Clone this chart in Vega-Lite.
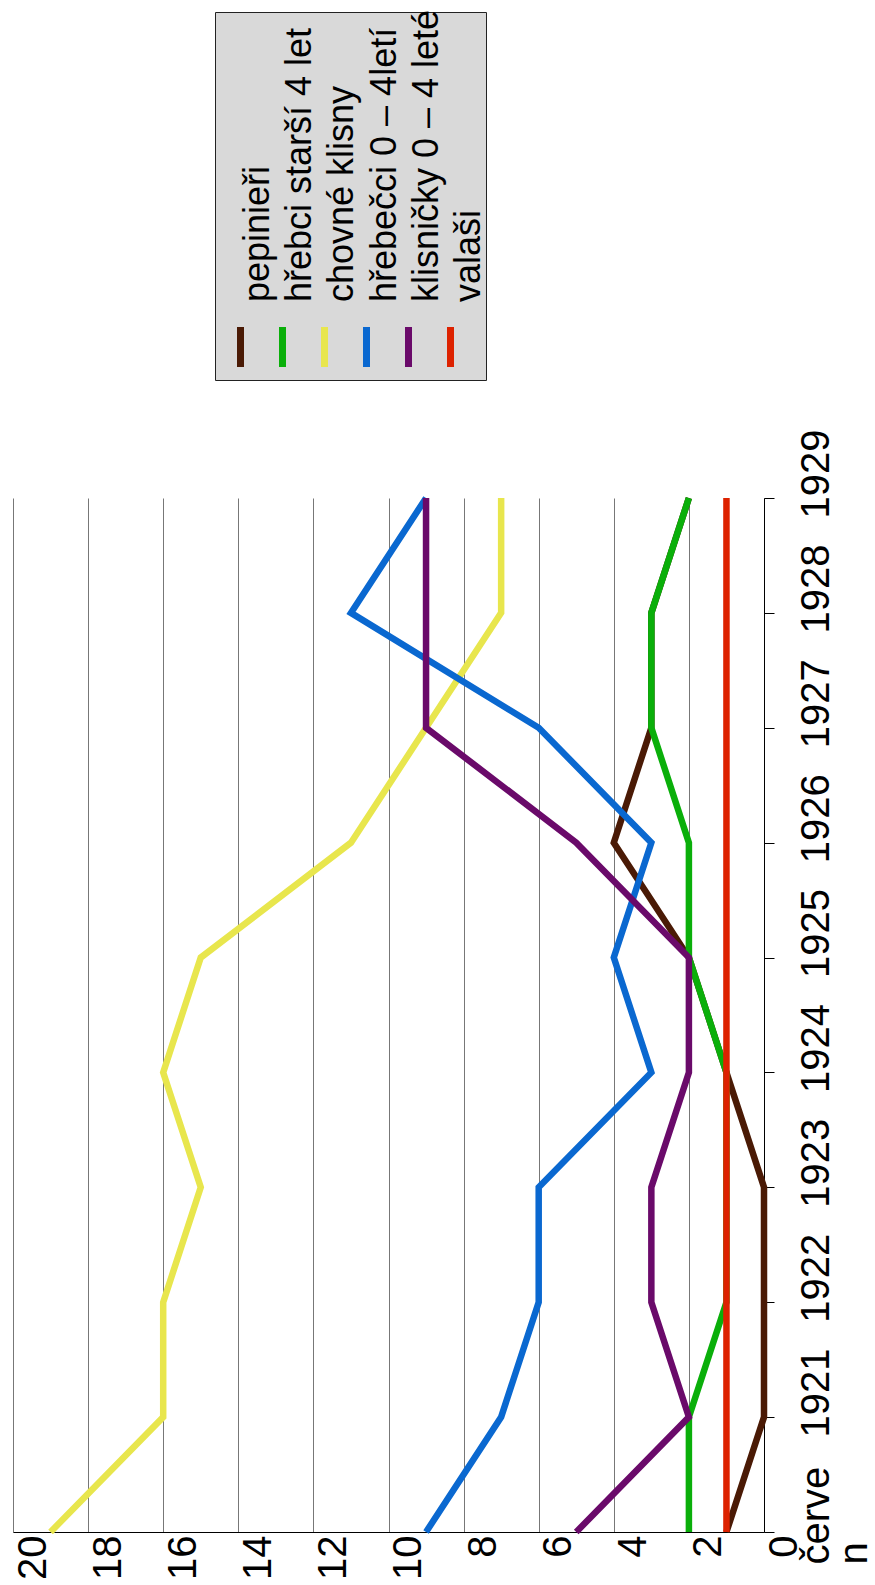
{
  "$schema": "https://vega.github.io/schema/vega-lite/v6.json",
  "padding": {"left": 13, "top": 9, "right": 0, "bottom": 0},
  "spacing": 48,
  "config": {"view": {"stroke": null}, "font": "Liberation Sans"},
  "datasets": {
    "series": [
      {"series": "pepinieři"},
      {"series": "hřebci starší 4 let"},
      {"series": "chovné klisny"},
      {"series": "hřebečci 0 – 4letí"},
      {"series": "klisničky 0 – 4 leté"},
      {"series": "valaši"}
    ],
    "counts": [
      {"year": "červen", "series": "pepinieři", "value": 1},
      {"year": "1921", "series": "pepinieři", "value": 0},
      {"year": "1922", "series": "pepinieři", "value": 0},
      {"year": "1923", "series": "pepinieři", "value": 0},
      {"year": "1924", "series": "pepinieři", "value": 1},
      {"year": "1925", "series": "pepinieři", "value": 2},
      {"year": "1926", "series": "pepinieři", "value": 4},
      {"year": "1927", "series": "pepinieři", "value": 3},
      {"year": "1928", "series": "pepinieři", "value": 3},
      {"year": "1929", "series": "pepinieři", "value": 2},
      {"year": "červen", "series": "hřebci starší 4 let", "value": 2},
      {"year": "1921", "series": "hřebci starší 4 let", "value": 2},
      {"year": "1922", "series": "hřebci starší 4 let", "value": 1},
      {"year": "1923", "series": "hřebci starší 4 let", "value": 1},
      {"year": "1924", "series": "hřebci starší 4 let", "value": 1},
      {"year": "1925", "series": "hřebci starší 4 let", "value": 2},
      {"year": "1926", "series": "hřebci starší 4 let", "value": 2},
      {"year": "1927", "series": "hřebci starší 4 let", "value": 3},
      {"year": "1928", "series": "hřebci starší 4 let", "value": 3},
      {"year": "1929", "series": "hřebci starší 4 let", "value": 2},
      {"year": "červen", "series": "chovné klisny", "value": 19},
      {"year": "1921", "series": "chovné klisny", "value": 16},
      {"year": "1922", "series": "chovné klisny", "value": 16},
      {"year": "1923", "series": "chovné klisny", "value": 15},
      {"year": "1924", "series": "chovné klisny", "value": 16},
      {"year": "1925", "series": "chovné klisny", "value": 15},
      {"year": "1926", "series": "chovné klisny", "value": 11},
      {"year": "1927", "series": "chovné klisny", "value": 9},
      {"year": "1928", "series": "chovné klisny", "value": 7},
      {"year": "1929", "series": "chovné klisny", "value": 7},
      {"year": "červen", "series": "hřebečci 0 – 4letí", "value": 9},
      {"year": "1921", "series": "hřebečci 0 – 4letí", "value": 7},
      {"year": "1922", "series": "hřebečci 0 – 4letí", "value": 6},
      {"year": "1923", "series": "hřebečci 0 – 4letí", "value": 6},
      {"year": "1924", "series": "hřebečci 0 – 4letí", "value": 3},
      {"year": "1925", "series": "hřebečci 0 – 4letí", "value": 4},
      {"year": "1926", "series": "hřebečci 0 – 4letí", "value": 3},
      {"year": "1927", "series": "hřebečci 0 – 4letí", "value": 6},
      {"year": "1928", "series": "hřebečci 0 – 4letí", "value": 11},
      {"year": "1929", "series": "hřebečci 0 – 4letí", "value": 9},
      {"year": "červen", "series": "klisničky 0 – 4 leté", "value": 5},
      {"year": "1921", "series": "klisničky 0 – 4 leté", "value": 2},
      {"year": "1922", "series": "klisničky 0 – 4 leté", "value": 3},
      {"year": "1923", "series": "klisničky 0 – 4 leté", "value": 3},
      {"year": "1924", "series": "klisničky 0 – 4 leté", "value": 2},
      {"year": "1925", "series": "klisničky 0 – 4 leté", "value": 2},
      {"year": "1926", "series": "klisničky 0 – 4 leté", "value": 5},
      {"year": "1927", "series": "klisničky 0 – 4 leté", "value": 9},
      {"year": "1928", "series": "klisničky 0 – 4 leté", "value": 9},
      {"year": "1929", "series": "klisničky 0 – 4 leté", "value": 9},
      {"year": "červen", "series": "valaši", "value": 1},
      {"year": "1921", "series": "valaši", "value": 1},
      {"year": "1922", "series": "valaši", "value": 1},
      {"year": "1923", "series": "valaši", "value": 1},
      {"year": "1924", "series": "valaši", "value": 1},
      {"year": "1925", "series": "valaši", "value": 1},
      {"year": "1926", "series": "valaši", "value": 1},
      {"year": "1927", "series": "valaši", "value": 1},
      {"year": "1928", "series": "valaši", "value": 1},
      {"year": "1929", "series": "valaši", "value": 1}
    ]
  },
  "vconcat": [
    {
      "bounds": "flush",
      "spacing": 0,
      "hconcat": [
        {
          "width": 202,
          "height": 368,
          "data": {"values": []},
          "mark": "point"
        },
        {
          "width": 271,
          "height": 368,
          "view": {"fill": "#d9d9d9", "stroke": "#222222", "strokeWidth": 1},
          "data": {"name": "series"},
          "encoding": {
            "x": {
              "field": "series",
              "type": "nominal",
              "scale": {
                "type": "point",
                "domain": ["pepinieři", "hřebci starší 4 let", "chovné klisny", "hřebečci 0 – 4letí", "klisničky 0 – 4 leté", "valaši"],
                "padding": 0.726,
                "align": 0.418
              },
              "axis": null
            }
          },
          "layer": [
            {
              "mark": {"type": "rule", "strokeWidth": 7},
              "encoding": {
                "y": {"value": 315},
                "y2": {"value": 355},
                "color": {
                  "field": "series",
                  "type": "nominal",
                  "scale": {
                    "domain": ["pepinieři", "hřebci starší 4 let", "chovné klisny", "hřebečci 0 – 4letí", "klisničky 0 – 4 leté", "valaši"],
                    "range": ["#4a1a05", "#0aaf0a", "#e8e64d", "#0a68d0", "#6a0a6a", "#dd2200"]
                  },
                  "legend": null
                }
              }
            },
            {
              "mark": {"type": "text", "angle": 270, "align": "left", "baseline": "alphabetic", "dy": 29, "fontSize": 36, "color": "#000000"},
              "encoding": {
                "y": {"value": 290},
                "text": {"field": "series"}
              }
            }
          ]
        }
      ]
    },
    {
      "width": 751,
      "height": 1034,
      "data": {"name": "counts"},
      "encoding": {
        "x": {
          "field": "value",
          "type": "quantitative",
          "scale": {"domain": [0, 20], "reverse": true, "nice": false, "zero": false},
          "axis": {
            "orient": "bottom",
            "values": [0, 2, 4, 6, 8, 10, 12, 14, 16, 18, 20],
            "grid": true,
            "gridColor": "#777777",
            "gridWidth": 1,
            "domainColor": "#000000",
            "domainWidth": 1,
            "ticks": false,
            "tickSize": 0,
            "labelAngle": 270,
            "labelAlign": "right",
            "labelBaseline": "top",
            "labelFontSize": 40,
            "labelColor": "#000000",
            "labelPadding": 3,
            "labelFlush": false,
            "labelOverlap": false,
            "title": null
          }
        },
        "y": {
          "field": "year",
          "type": "ordinal",
          "scale": {"type": "point", "padding": 0, "domain": ["1929", "1928", "1927", "1926", "1925", "1924", "1923", "1922", "1921", "červen"]},
          "axis": {
            "orient": "right",
            "grid": false,
            "domainColor": "#000000",
            "domainWidth": 1,
            "ticks": true,
            "tickSize": 10,
            "tickColor": "#000000",
            "tickWidth": 1,
            "labelAngle": 270,
            "labelAlign": "left",
            "labelBaseline": "top",
            "labelFontSize": 40,
            "labelLineHeight": 38,
            "labelColor": "#000000",
            "labelPadding": 22,
            "labelOffset": {"condition": {"test": "datum.value == 'červen'", "value": 32}, "value": 20},
            "labelExpr": "datum.value == 'červen' ? ['červe', 'n'] : datum.label",
            "labelOverlap": false,
            "labelLimit": 0,
            "title": null
          }
        },
        "color": {
          "field": "series",
          "type": "nominal",
          "scale": {
            "domain": ["pepinieři", "hřebci starší 4 let", "chovné klisny", "hřebečci 0 – 4letí", "klisničky 0 – 4 leté", "valaši"],
            "range": ["#4a1a05", "#0aaf0a", "#e8e64d", "#0a68d0", "#6a0a6a", "#dd2200"]
          },
          "legend": null
        }
      },
      "layer": [
        {"transform": [{"filter": "datum.series == 'pepinieři'"}], "mark": {"type": "line", "strokeWidth": 6.5}},
        {"transform": [{"filter": "datum.series == 'hřebci starší 4 let'"}], "mark": {"type": "line", "strokeWidth": 6.5}},
        {"transform": [{"filter": "datum.series == 'chovné klisny'"}], "mark": {"type": "line", "strokeWidth": 6.5}},
        {"transform": [{"filter": "datum.series == 'hřebečci 0 – 4letí'"}], "mark": {"type": "line", "strokeWidth": 6.5}},
        {"transform": [{"filter": "datum.series == 'klisničky 0 – 4 leté'"}], "mark": {"type": "line", "strokeWidth": 6.5}},
        {"transform": [{"filter": "datum.series == 'valaši'"}], "mark": {"type": "line", "strokeWidth": 6.5}}
      ]
    }
  ]
}
